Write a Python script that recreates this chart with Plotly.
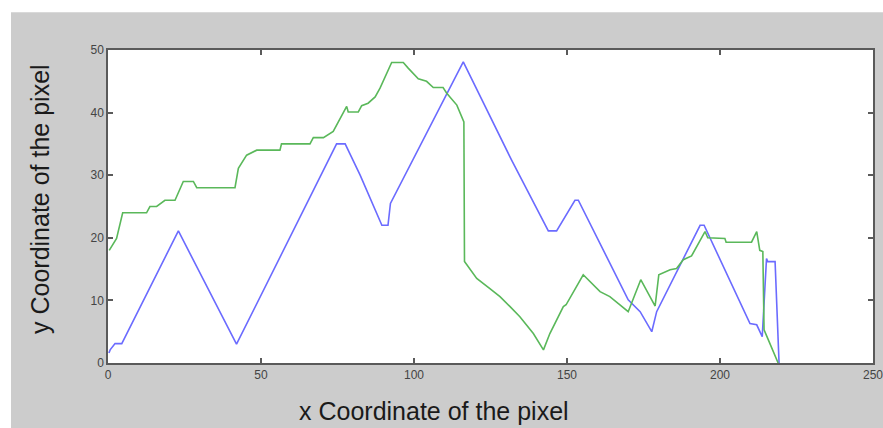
import plotly.graph_objects as go

# Blue series (x, y)
blue_x = [0.3, 0.7, 2.3, 4.5, 23, 42, 74.7, 77.5, 82.4, 89.5, 91.5, 92.3, 116.1, 131.9,
          143.9, 146.6, 152.6, 153.7, 170, 173.9, 177.7, 179.3, 193.5, 194.8, 209.8, 212,
          213.8, 215.2, 215.6, 218, 219.3]
blue_y = [1.6, 2.1, 3.1, 3.1, 21.1, 3, 35, 35, 30, 22, 22, 25.5, 48.1, 32.4,
          21.1, 21.1, 26, 26, 10.1, 8.2, 5, 8.2, 22, 22, 6.3, 6.1,
          4.2, 16.7, 16.2, 16.2, 0]

# Green series (x, y)
green_x = [0.4, 2.8, 4.8, 12.6, 13.7, 15.9, 18.6, 21.9, 24.6, 27.9, 29, 41.5, 42.6, 44.2,
           45.3, 48.6, 56.2, 56.7, 66, 67.1, 70.4, 73.6, 78, 78.5, 81.8, 82.9, 85, 87.3,
           88.9, 92.7, 96.5, 98.1, 99.8, 101.4, 104.1, 106.3, 109.5, 110.7, 114, 115.6,
           116.3, 116.5, 118.3, 120.5, 124.8, 128.1, 131.4, 134.6, 139, 142.3, 144.4,
           148.8, 149.7, 155.3, 160.8, 164, 167.3, 170, 174.1, 178.8, 180, 183.7, 185.8,
           188, 190.7, 195.1, 196, 201.6, 202, 210.3, 212, 213, 214, 214.4, 215.8, 219]
green_y = [18, 19.9, 24, 24, 25, 25, 26, 26, 29, 29, 28, 28, 31.1, 32.4,
           33.2, 34, 34, 35, 35, 36, 36, 37, 41, 40.1, 40.1, 41.1, 41.5, 42.5,
           43.9, 48, 48, 47.1, 46.3, 45.4, 45, 44, 44, 43.1, 41.2, 39.3,
           38.5, 16.2, 14.9, 13.5, 11.9, 10.6, 9, 7.4, 4.7, 2.1, 4.7,
           9, 9.3, 14.1, 11.4, 10.6, 9.3, 8.2, 13.3, 9.1, 14.1, 14.9, 15.1,
           16.5, 17.1, 21, 20, 19.9, 19.3, 19.3, 21, 18, 17.8, 5.3, 3.7, 0]

x_ticks = [0, 50, 100, 150, 200, 250]
y_ticks = [0, 10, 20, 30, 40, 50]
x_title = "x Coordinate of the pixel"
y_title = "y Coordinate of the pixel"

fig = go.Figure()
fig.add_trace(go.Scatter(x=blue_x, y=blue_y, mode="lines",
                         line=dict(color="#6b6bff", width=1.6), showlegend=False))
fig.add_trace(go.Scatter(x=green_x, y=green_y, mode="lines",
                         line=dict(color="#5ab85a", width=1.6), showlegend=False))

axis_common = dict(showgrid=False, zeroline=False, showline=True, linecolor="#5a5a5a",
                   linewidth=1.5, mirror="ticks", ticks="inside", ticklen=5,
                   tickcolor="#5a5a5a", tickwidth=1.5, automargin=False,
                   ticklabeloverflow="allow",
                   tickfont=dict(family="Liberation Sans, Arial", size=12, color="#444"))

fig.update_xaxes(range=[0, 250], tickvals=x_ticks, **axis_common)
fig.update_yaxes(range=[0, 50], tickvals=y_ticks, **axis_common)

fig.update_layout(
    width=883, height=428,
    margin=dict(l=108, r=10, t=50, b=65),
    paper_bgcolor="#cccccc", plot_bgcolor="white",
    shapes=[
        dict(type="rect", xref="paper", yref="paper", x0=-0.16, x1=1.1, y0=1.121, y1=1.3,
             fillcolor="white", line=dict(width=0), layer="below"),
        dict(type="rect", xref="paper", yref="paper", x0=-0.16, x1=-0.1268, y0=-0.4, y1=1.3,
             fillcolor="white", line=dict(width=0), layer="below"),
    ],
    annotations=[
        dict(text=x_title, xref="paper", yref="paper", x=0.426, y=-0.152,
             showarrow=False, xanchor="center", yanchor="middle",
             font=dict(family="Liberation Sans, Arial", size=25, color="#1a1a1a")),
        dict(text=y_title, xref="paper", yref="paper", x=-0.0889, y=0.524,
             showarrow=False, xanchor="center", yanchor="middle", textangle=-90,
             font=dict(family="Liberation Sans, Arial", size=25, color="#1a1a1a")),
    ],
)

fig.write_html("out.html")
